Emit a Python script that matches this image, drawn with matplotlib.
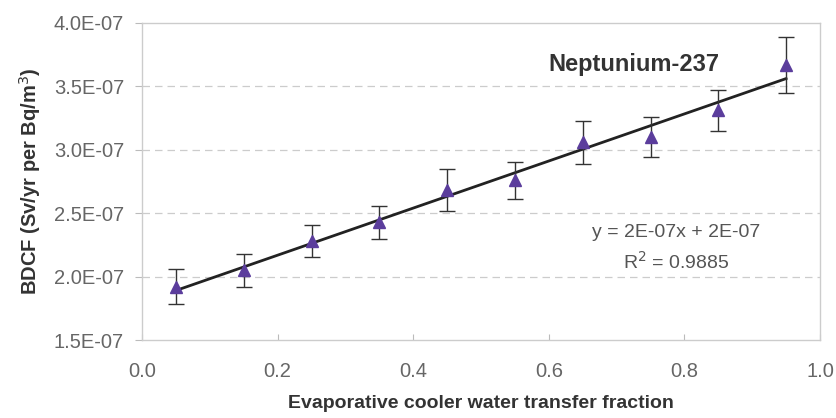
import numpy as np
import matplotlib.pyplot as plt

plt.rcParams['font.family'] = ['Liberation Sans', 'DejaVu Sans']

# fraction of evaporative cooler water transferred
frac = [0.05, 0.15, 0.25, 0.35, 0.45, 0.55, 0.65, 0.75, 0.85, 0.95]
# BDCF (Sv/yr per Bq/m3), units of 1e-7
bdcf = [1.92, 2.05, 2.28, 2.43, 2.68, 2.76, 3.06, 3.10, 3.31, 3.67]
err = [0.14, 0.13, 0.125, 0.13, 0.165, 0.145, 0.17, 0.155, 0.163, 0.22]

scale = 1e-7
y = np.array(bdcf) * scale
e = np.array(err) * scale
x = np.array(frac)

fig = plt.figure(figsize=(8.37, 4.18), dpi=100)
ax = fig.add_axes([0.1697, 0.1866, 0.81, 0.7584])

# linear trend line
k, b = np.polyfit(x, y, 1)
ax.plot(x, k * x + b, color='#222222', lw=2.0, zorder=2)

ax.errorbar(x, y, yerr=e, fmt='none', ecolor='#333333', elinewidth=1.0,
            capsize=5.5, capthick=1.0, zorder=3)
ax.plot(x, y, linestyle='none', marker='^', markersize=8.5,
        color='#5b3d9c', zorder=4)

ax.set_xlim(0, 1.0)
ax.set_ylim(1.5e-7, 4.0e-7)
ax.set_xticks(np.arange(0, 1.01, 0.2))
ax.set_yticks(np.arange(1.5e-7, 4.01e-7, 0.5e-7))
ax.set_xticklabels(['%.1f' % v for v in np.arange(0, 1.01, 0.2)])
ax.set_yticklabels(['%.1fE-07' % (v / 1e-7) for v in np.arange(1.5e-7, 4.01e-7, 0.5e-7)])
ax.tick_params(axis='both', labelsize=14.5, labelcolor='#666666', color='#bbbbbb')
ax.tick_params(axis='x', direction='in', length=4, pad=16)
ax.tick_params(axis='y', direction='out', length=5, pad=8)

for v in [2.0e-7, 2.5e-7, 3.0e-7, 3.5e-7]:
    ax.axhline(v, color='#cccccc', lw=0.9, ls=(0, (6, 4)), zorder=1)

for s in ax.spines.values():
    s.set_color('#cccccc')
    s.set_linewidth(1.0)

ax.set_xlabel('Evaporative cooler water transfer fraction', fontsize=14,
              fontweight='bold', color='#333333', labelpad=10)
ax.set_ylabel('BDCF (Sv/yr per Bq/m$^3$)', fontsize=14.5, fontweight='bold',
              color='#333333', labelpad=8)

ax.text(0.725, 0.868, 'Neptunium-237', transform=ax.transAxes, fontsize=17,
        fontweight='bold', color='#333333', ha='center', va='center')
ax.text(0.788, 0.34, 'y = 2E-07x + 2E-07', transform=ax.transAxes,
        fontsize=14, color='#555555', ha='center', va='center')
ax.text(0.788, 0.245, 'R$^2$ = 0.9885', transform=ax.transAxes,
        fontsize=14, color='#555555', ha='center', va='center')

fig.savefig('out.png', dpi=100)
